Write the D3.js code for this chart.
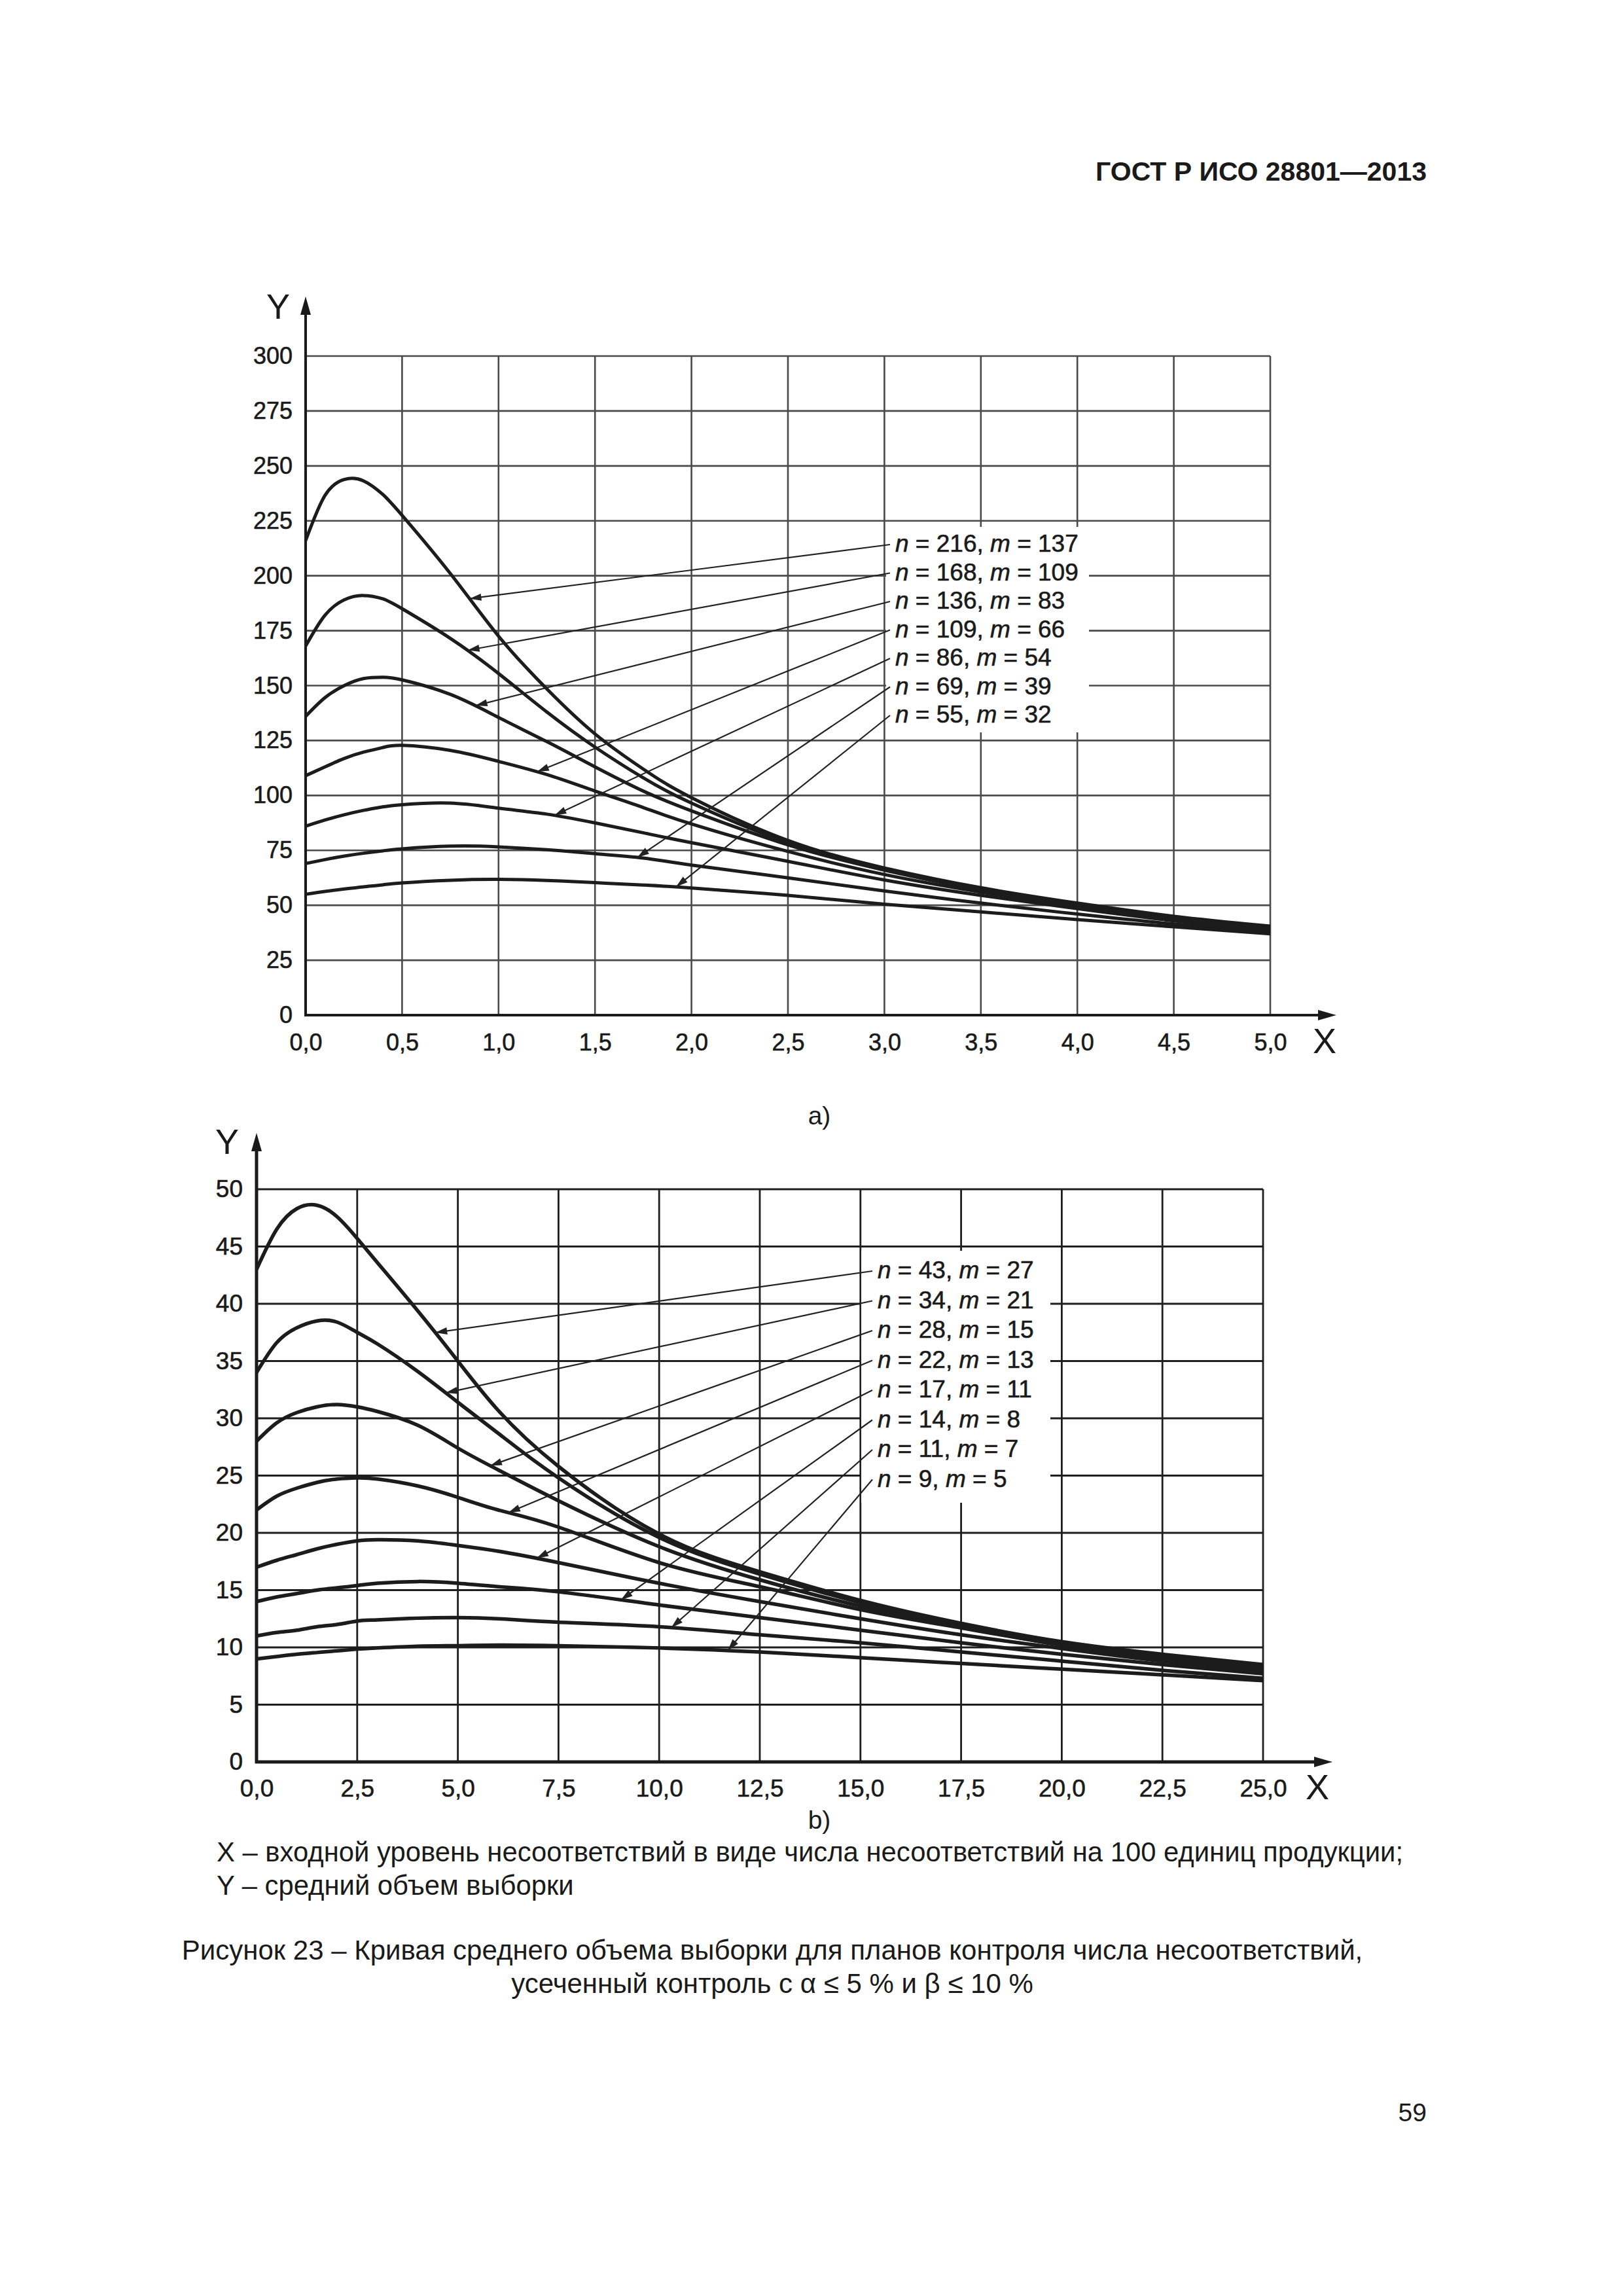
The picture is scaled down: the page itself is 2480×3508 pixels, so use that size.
<!DOCTYPE html>
<html><head><meta charset="utf-8">
<script src="https://cdn.jsdelivr.net/npm/d3@7"></script>
<style>
body{margin:0;background:#fff}
svg{display:block}
text{font-family:"Liberation Sans",Arial,sans-serif;fill:#1a1a1a}
</style>
</head><body>
<svg id="c" width="2480" height="3508"></svg>
<script>
// ---------- DATA: chart a ----------
const xA = [0,0.1,0.2,0.3,0.4,0.5,0.75,1,1.25,1.5,1.75,2,2.5,3,3.5,4,4.5,5];
const yA216 = [216,236.5,243.8,243.2,237,227.5,201,172.5,148.5,128,112,99,79.5,67,58,51,45,40.5];
const yA168 = [168,182,189,191,189.5,185,171.5,155.5,138,122,108,96.5,78.5,66.5,57.5,50.5,44.5,40];
const yA136 = [136,144.5,150,153.2,153.8,152.6,146,135.5,124.5,113,102,93,77.5,66,57,50,44,39.7];
const yA109 = [109,113,116.8,119.7,121.8,122.8,120.5,115.5,109.5,102,94.5,87,74.5,64,56,49.5,44,39.3];
const yA86  = [86,88.8,91.2,93.2,94.8,95.8,96.5,94.2,91.5,87.5,83,78.5,70,61.5,54.5,48.5,43,38.6];
const yA69  = [69,70.8,72.4,73.7,74.8,75.7,76.9,76.6,75.3,73.5,71.5,68.3,62.5,56.5,51,46,41.5,37.8];
const yA55  = [55,56.3,57.4,58.4,59.3,60.2,61.4,61.8,61.3,60.3,59.2,57.9,54.5,50.5,47,43.5,40.2,37];
const nA = [216,168,136,109,86,69,55];
const mA = [137,109,83,66,54,39,32];
const arrowXA = [0.85,0.84,0.88,1.2,1.29,1.72,1.92];
const xTicksA = [0,0.5,1,1.5,2,2.5,3,3.5,4,4.5,5];
const yTicksA = [0,25,50,75,100,125,150,175,200,225,250,275,300];

// ---------- DATA: chart b ----------
const xB = [0,0.5,1,1.5,2,2.5,3,4,5,6,7.5,10,12.5,15,17.5,20,22.5,25];
const yB43 = [43,46.5,48.3,48.6,47.6,45.7,43.6,39.4,35.0,30.7,25.8,19.9,16.6,14.1,12.1,10.5,9.4,8.5];
const yB34 = [34,36.6,37.9,38.5,38.4,37.5,36.5,34.1,31.4,28.7,24.8,19.6,16.4,13.9,11.9,10.3,9.2,8.4];
const yB28 = [28,29.6,30.5,31.0,31.2,31.0,30.6,29.4,27.4,25.5,22.8,18.8,15.9,13.6,11.8,10.2,9.1,8.3];
const yB22 = [22,23.2,23.9,24.4,24.7,24.8,24.7,24.1,23.1,22.0,20.5,17.4,15.3,13.3,11.7,10.2,9.0,8.1];
const yB17 = [17,17.6,18.1,18.6,19.0,19.3,19.4,19.3,18.9,18.4,17.4,15.6,14.0,12.5,11.1,9.9,8.8,7.9];
const yB14 = [14,14.4,14.7,15.0,15.2,15.4,15.6,15.75,15.6,15.3,14.85,13.7,12.6,11.5,10.4,9.4,8.5,7.7];
const yB11 = [11,11.3,11.5,11.8,12.0,12.3,12.4,12.55,12.6,12.5,12.2,11.8,11.1,10.4,9.6,8.8,8.0,7.3];
const yB9  = [9,9.2,9.4,9.55,9.7,9.85,9.95,10.1,10.15,10.2,10.15,9.95,9.6,9.1,8.6,8.1,7.6,7.1];
const nB = [43,34,28,22,17,14,11,9];
const mB = [27,21,15,13,11,8,7,5];
const arrowXB = [4.44,4.7,5.8,6.26,6.96,9.05,10.3,11.7];
const xTicksB = [0,2.5,5,7.5,10,12.5,15,17.5,20,22.5,25];
const yTicksB = [0,5,10,15,20,25,30,35,40,45,50];

// ---------- TEXT ----------
const header = "ГОСТ Р ИСО 28801—2013";
const legendLines = ["X – входной уровень несоответствий в виде числа несоответствий на 100 единиц продукции;",
                     "Y – средний объем выборки"];
const captionLines = ["Рисунок 23 – Кривая среднего объема выборки для планов контроля числа несоответствий,",
                      "усеченный контроль с α ≤ 5 % и β ≤ 10 %"];
const pageNo = "59";

const svg = d3.select('#c');
svg.append('rect').attr('width',2480).attr('height',3508).attr('fill','#fff');
const fmt = d => d3.format('.1f')(d).replace('.', ',');

function arrowHead(g, x1, y1, x2, y2, len, hw, color){
  const a = Math.atan2(y2-y1, x2-x1);
  const bx = x2 - len*Math.cos(a), by = y2 - len*Math.sin(a);
  const px = -Math.sin(a)*hw, py = Math.cos(a)*hw;
  g.append('path').attr('d',`M${x2},${y2}L${bx+px},${by+py}L${bx-px},${by-py}Z`).attr('fill',color);
}

function drawChart(cfg){
  const g = svg.append('g');
  const x = d3.scaleLinear().domain(cfg.xDomain).range(cfg.xRange);
  const y = d3.scaleLinear().domain(cfg.yDomain).range(cfg.yRange);
  const [X0,X1] = cfg.xRange, [Y0,Y1] = cfg.yRange;

  // grid
  g.append('g').selectAll('line').data(cfg.xTicks.slice(1)).join('line')
    .attr('x1',d=>x(d)).attr('x2',d=>x(d)).attr('y1',Y0).attr('y2',Y1)
    .attr('stroke',cfg.gridColor).attr('stroke-width',cfg.gridW);
  g.append('g').selectAll('line').data(cfg.yTicks.slice(1)).join('line')
    .attr('x1',X0).attr('x2',X1).attr('y1',d=>y(d)).attr('y2',d=>y(d))
    .attr('stroke',cfg.gridColor).attr('stroke-width',cfg.gridW);

  // white box behind labels
  const r = cfg.box;
  g.append('rect').attr('x',r[0]).attr('y',r[1]).attr('width',r[2]-r[0]).attr('height',r[3]-r[1]).attr('fill','#fff');

  // axes lines with arrows
  g.append('line').attr('x1',X0).attr('x2',X0).attr('y1',Y0+2).attr('y2',cfg.yTip+10)
    .attr('stroke','#1a1a1a').attr('stroke-width',cfg.axisW);
  arrowHead(g, X0, Y0, X0, cfg.yTip, 28, 8, '#1a1a1a');
  g.append('line').attr('x1',X0-2).attr('x2',cfg.xTip-10).attr('y1',Y0).attr('y2',Y0)
    .attr('stroke','#1a1a1a').attr('stroke-width',cfg.axisW);
  arrowHead(g, X0, Y0, cfg.xTip, Y0, 28, 8, '#1a1a1a');

  // tick labels through d3 axes
  const ax = g.append('g').attr('transform',`translate(0,${Y0})`)
    .call(d3.axisBottom(x).tickValues(cfg.xTicks).tickSize(0).tickPadding(cfg.xPad).tickFormat(fmt));
  ax.select('.domain').remove();
  const ay = g.append('g').attr('transform',`translate(${X0},0)`)
    .call(d3.axisLeft(y).tickValues(cfg.yTicks).tickSize(0).tickPadding(cfg.yPad).tickFormat(d3.format('d')));
  ay.select('.domain').remove();
  g.selectAll('.tick text').attr('font-size',cfg.tickFont).attr('font-family','"Liberation Sans",Arial,sans-serif')
    .attr('fill','#1a1a1a').attr('stroke','#1a1a1a').attr('stroke-width',0.6);

  g.append('text').attr('x',cfg.yLab[0]).attr('y',cfg.yLab[1]).attr('text-anchor','middle')
    .attr('dominant-baseline','central').attr('font-size',cfg.axLabFont).text('Y');
  g.append('text').attr('x',cfg.xLab[0]).attr('y',cfg.xLab[1]).attr('text-anchor','middle')
    .attr('dominant-baseline','central').attr('font-size',cfg.axLabFont).text('X');

  // curves
  const line = d3.line().x(d=>x(d[0])).y(d=>y(d[1])).curve(d3.curveNatural);
  const paths = cfg.series.map(s => g.append('path').datum(cfg.xs.map((xv,i)=>[xv,s[i]]))
    .attr('d',line).attr('fill','none').attr('stroke','#1c1c1c').attr('stroke-width',cfg.curveW)
    .attr('stroke-linejoin','round').node());

  // labels + leaders
  cfg.ns.forEach((n,i)=>{
    const ry = cfg.rowY0 + i*cfg.rowDy;
    const t = g.append('text').attr('x',cfg.labX).attr('y',ry).attr('dominant-baseline','central')
      .attr('font-size',cfg.labFont).attr('stroke','#1a1a1a').attr('stroke-width',0.6);
    t.append('tspan').attr('font-style','italic').text('n');
    t.append('tspan').text(` = ${n}, `);
    t.append('tspan').attr('font-style','italic').text('m');
    t.append('tspan').text(` = ${cfg.ms[i]}`);
    const p = paths[i], L = p.getTotalLength(), tx = x(cfg.arrowX[i]);
    let best = null, bd = 1e9;
    for(let l=0;l<=L;l+=0.5){const pt=p.getPointAtLength(l); const d=Math.abs(pt.x-tx); if(d<bd){bd=d;best=pt;}}
    const sx = cfg.labX-8, sy = ry+2;
    g.append('line').attr('x1',sx).attr('y1',sy).attr('x2',best.x).attr('y2',best.y)
      .attr('stroke','#222').attr('stroke-width',2.2);
    arrowHead(g, sx, sy, best.x, best.y, 18, 5.5, '#222');
  });
}

drawChart({
  xDomain:[0,5], yDomain:[0,300], xRange:[467,1941], yRange:[1551,544],
  xTicks:xTicksA, yTicks:yTicksA, xs:xA,
  series:[yA216,yA168,yA136,yA109,yA86,yA69,yA55], ns:nA, ms:mA, arrowX:arrowXA,
  gridColor:'#4a4a4a', gridW:2.6, axisW:4, curveW:5,
  yTip:453, xTip:2042, xPad:28, yPad:20, tickFont:36,
  yLab:[425,468], xLab:[2024,1590], axLabFont:54,
  box:[1354,805,1664,1119], labX:1368, rowY0:830, rowDy:43.5, labFont:37
});
drawChart({
  xDomain:[0,25], yDomain:[0,50], xRange:[392,1930], yRange:[2692,1817],
  xTicks:xTicksB, yTicks:yTicksB, xs:xB,
  series:[yB43,yB34,yB28,yB22,yB17,yB14,yB11,yB9], ns:nB, ms:mB, arrowX:arrowXB,
  gridColor:'#1e1e1e', gridW:2.8, axisW:5, curveW:5.5,
  yTip:1731, xTip:2036, xPad:27, yPad:21, tickFont:37,
  yLab:[347,1744], xLab:[2013,2730], axLabFont:54,
  box:[1316,1911,1605,2296], labX:1341, rowY0:1940, rowDy:45.5, labFont:37
});

// page texts
svg.append('text').attr('x',2180).attr('y',262).attr('text-anchor','end').attr('dominant-baseline','central')
  .attr('font-size',41).attr('font-weight','bold').text(header);
svg.append('text').attr('x',1252).attr('y',1704).attr('text-anchor','middle').attr('dominant-baseline','central')
  .attr('font-size',39).text('a)');
svg.append('text').attr('x',1252).attr('y',2780).attr('text-anchor','middle').attr('dominant-baseline','central')
  .attr('font-size',39).text('b)');
legendLines.forEach((s,i)=>svg.append('text').attr('x',331).attr('y',2829+i*51).attr('dominant-baseline','central')
  .attr('font-size',41.8).text(s));
captionLines.forEach((s,i)=>svg.append('text').attr('x',1180).attr('y',2979+i*51).attr('text-anchor','middle')
  .attr('dominant-baseline','central').attr('font-size',42).text(s));
svg.append('text').attr('x',2180).attr('y',3227).attr('text-anchor','end').attr('dominant-baseline','central')
  .attr('font-size',39).text(pageNo);
</script>
</body></html>
